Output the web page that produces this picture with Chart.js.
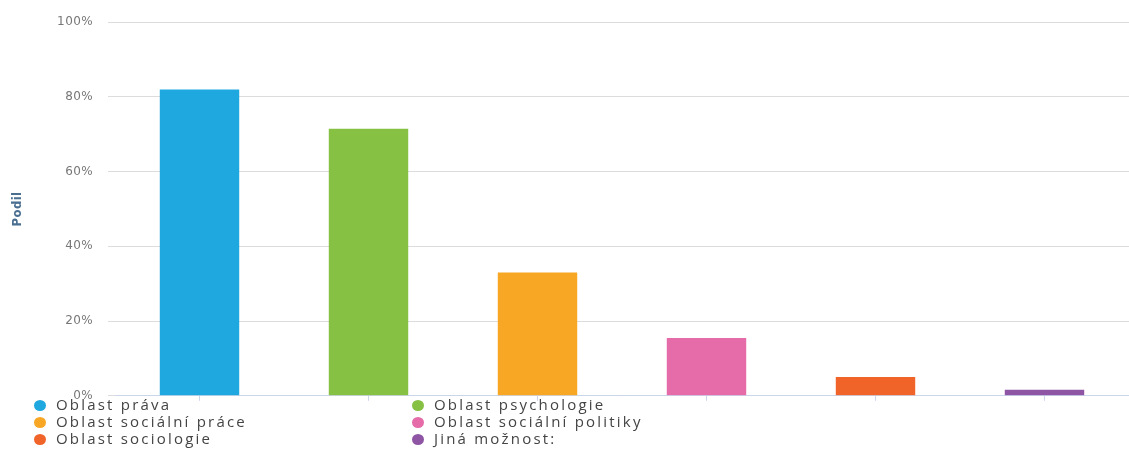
<!DOCTYPE html>
<html>
<head>
<meta charset="utf-8">
<script src="https://cdn.jsdelivr.net/npm/chart.js@4"></script>
<style>
  body { margin:0; background:#fff; }
  .wrap { position:relative; width:1129px; height:469px; }
  .chart-box { position:absolute; left:0; top:0; width:1129px; height:418px; }
  .legend { position:absolute; left:34px; top:396px; display:grid; grid-template-columns:378px 378px; font-family:"Open Sans"; font-size:15px; color:#444; letter-spacing:2.2px; }
  .legend div { height:17px; line-height:17px; white-space:nowrap; }
  .legend span { display:inline-block; width:12px; height:11px; border-radius:50%; margin-right:10px; vertical-align:-1px; }
</style>
</head>
<body>
<div class="wrap">
  <div class="chart-box"><canvas id="barChart"></canvas></div>
  <div class="legend" id="legend"></div>
</div>
<script>
const categories = ['Oblast práva','Oblast psychologie','Oblast sociální práce','Oblast sociální politiky','Oblast sociologie','Jiná možnost:'];
const shares = [82, 71.5, 33, 15.5, 5, 1.6];
const barColors = ['#1fa8df','#86c144','#f8a724','#e56ba9','#f0642a','#8e55a4'];
const yTicks = [0, 20, 40, 60, 80, 100];

const data = {
    labels: categories,
    datasets: [{
        label: 'Podil',
        data: shares,
        backgroundColor: barColors,
        borderWidth: 0,
        barPercentage: 0.47,
        categoryPercentage: 1
    }]
};

// slightly wider letter spacing for axis text
const spacing = {
    id: 'spacing',
    beforeDraw(chart) { chart.ctx.letterSpacing = '0.4px'; }
};

const config = {
    type: 'bar',
    data: data,
    options: {
        responsive: true,
        maintainAspectRatio: false,
        animation: false,
        layout: { padding: { top: 16, right: 0, left: 0, bottom: 0 } },
        scales: {
            x: {
                afterFit: (scale) => { scale.height = 5; },
                grid: { display: true, offset: false, drawOnChartArea: false, tickLength: 5, color: '#ccd6eb' },
                border: { color: '#ccd6eb' },
                ticks: { display: false }
            },
            y: {
                min: 0,
                max: 100,
                afterFit: (scale) => { scale.width = 115; },
                afterBuildTicks: (scale) => { scale.ticks = yTicks.map(v => ({ value: v })); },
                grid: { color: '#dcdcdc', tickLength: 7 },
                border: { display: false },
                ticks: {
                    padding: 15,
                    color: '#777',
                    font: { family: 'DejaVu Sans', size: 12 },
                    callback: (v) => v + '%'
                },
                title: {
                    display: true,
                    text: 'Podil',
                    color: '#4a6f91',
                    font: { family: 'DejaVu Sans Condensed', size: 13, weight: 'bold' },
                    padding: { top: 10, bottom: 0 }
                }
            }
        },
        plugins: {
            legend: { display: false },
            tooltip: { enabled: false }
        }
    },
    plugins: [spacing]
};

const barChart = new Chart(document.getElementById('barChart'), config);

// legend below, two columns
const legendEl = document.getElementById('legend');
categories.forEach((c, i) => {
    const row = document.createElement('div');
    row.innerHTML = '<span style="background:' + barColors[i] + '"></span>' + c;
    legendEl.appendChild(row);
});
</script>
</body>
</html>
